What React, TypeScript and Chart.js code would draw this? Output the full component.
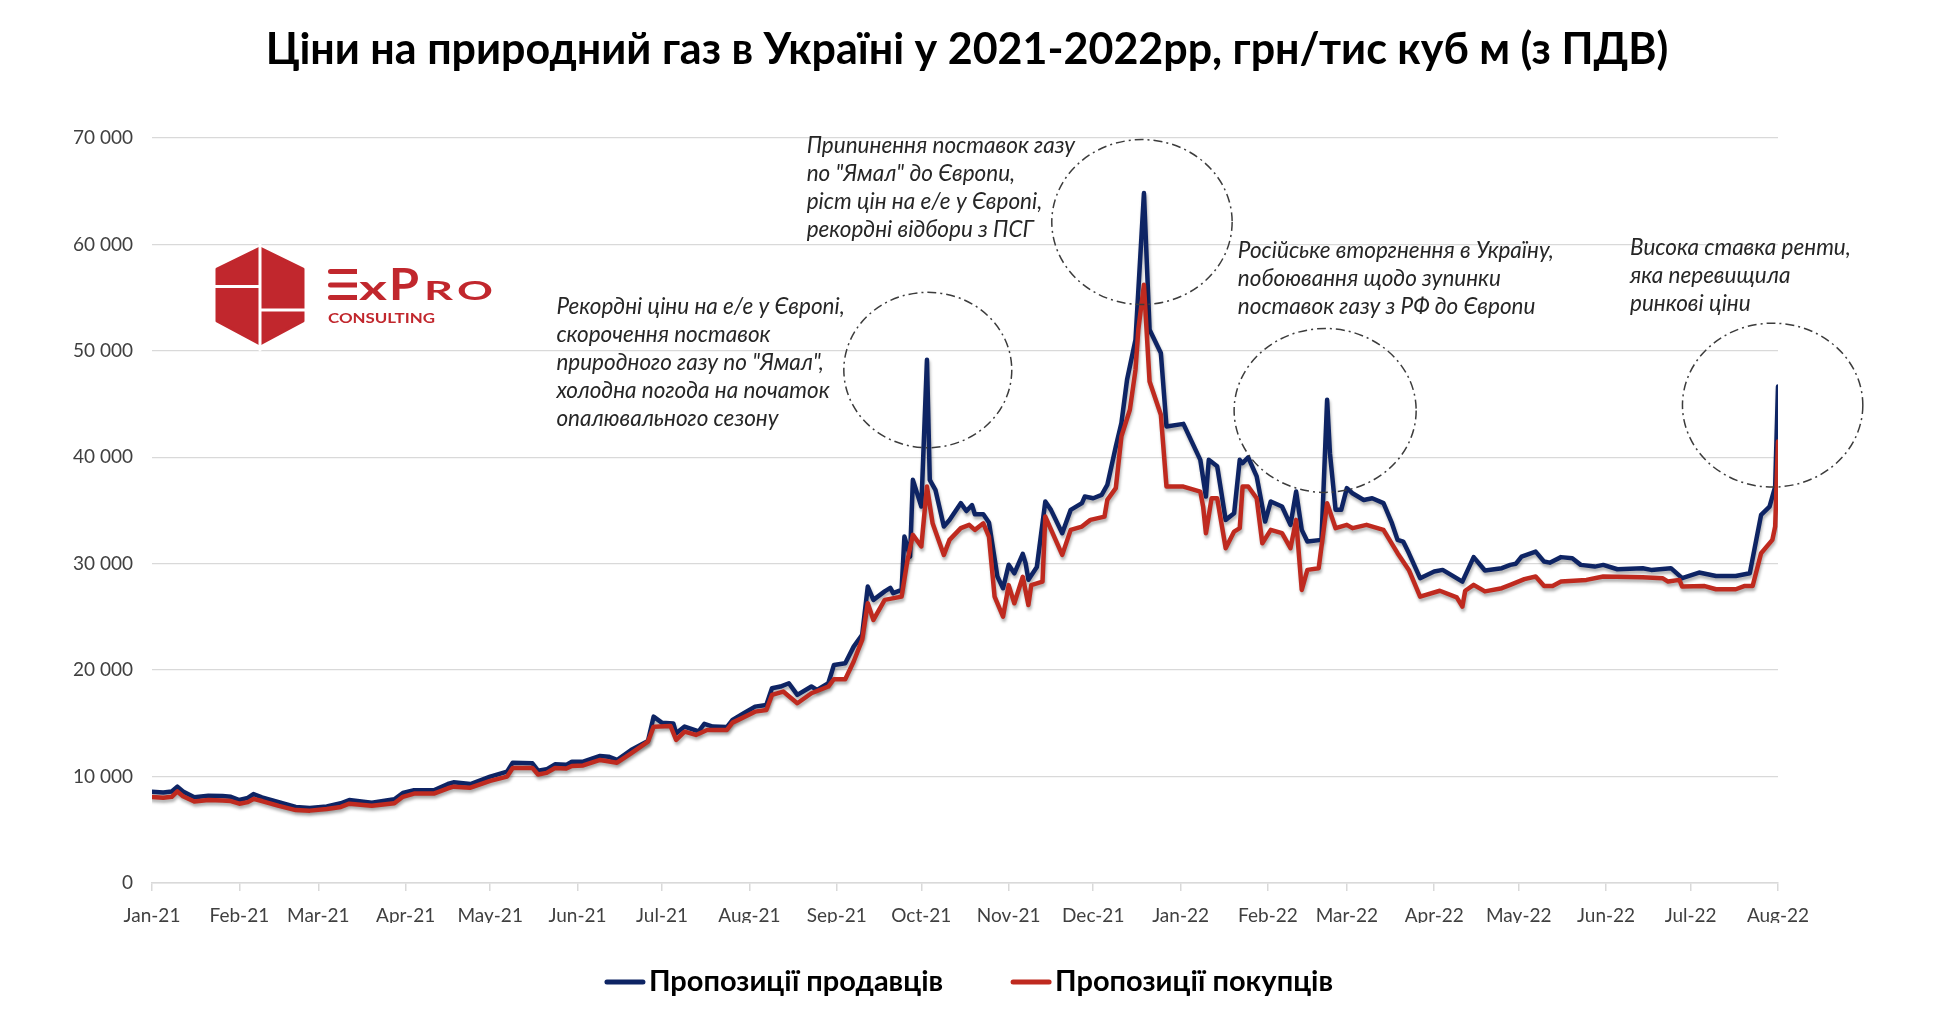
import { useEffect, useRef } from "react";
import { Chart, registerables, type Plugin } from "chart.js";

Chart.register(...registerables);

const TITLE = "Ціни на природний газ в Україні у 2021-2022рр, грн/тис куб м (з ПДВ)";

// x is counted in days from 1 Jan 2021
const MONTH_DAYS = [0, 31, 59, 90, 120, 151, 181, 212, 243, 273, 304, 334, 365, 396, 424, 455, 485, 516, 546, 577];
const MONTH_LABELS = [
  "Jan-21", "Feb-21", "Mar-21", "Apr-21", "May-21", "Jun-21", "Jul-21", "Aug-21", "Sep-21", "Oct-21",
  "Nov-21", "Dec-21", "Jan-22", "Feb-22", "Mar-22", "Apr-22", "May-22", "Jun-22", "Jul-22", "Aug-22",
];

const SELLER_LABEL = "Пропозиції продавців";
const SELLER_DAYS = [
  0, 4, 7, 9, 11, 15, 20, 25, 28, 31,
  34, 36, 39, 45, 51, 56, 62, 67, 70, 78,
  86, 89, 93, 100, 105, 107, 113, 120, 126, 128,
  135, 137, 140, 143, 147, 149, 153, 159, 162, 165,
  170, 176, 178, 181, 185, 186, 189, 194, 196, 199,
  204, 206, 210, 214, 218, 220, 223, 226, 229, 234,
  236, 240, 242, 246, 249, 252, 254, 256, 260, 262,
  263, 266, 267, 269, 270, 273, 275, 276, 278, 281,
  283, 287, 289, 291, 292, 295, 297, 300, 302, 304,
  306, 309, 310, 311, 314, 317, 319, 323, 326, 330,
  331, 334, 337, 339, 342, 344, 346, 349, 352, 354,
  358, 360, 366, 372, 374, 375, 378, 381, 384, 386,
  387, 389, 392, 395, 397, 401, 404, 406, 408, 410,
  415, 417, 418, 420, 422, 424, 426, 430, 433, 437,
  440, 442, 444, 446, 450, 455, 458, 461, 465, 469,
  473, 479, 482, 484, 486, 491, 494, 496, 500, 504,
  507, 512, 515, 520, 529, 532, 539, 543, 549, 555,
  562, 567, 571, 574, 576, 577,
];
const SELLER_PRICES = [
  8580, 8500, 8600, 9050, 8600, 8050, 8200, 8180, 8100, 7800,
  8000, 8360, 8050, 7600, 7150, 7050, 7200, 7490, 7800, 7550,
  7870, 8460, 8710, 8710, 9300, 9460, 9300, 10000, 10460, 11310,
  11250, 10560, 10680, 11150, 11100, 11400, 11400, 11940, 11870, 11560,
  12500, 13350, 15630, 15050, 14990, 14070, 14700, 14240, 14960, 14700,
  14650, 15320, 15950, 16570, 16730, 18300, 18460, 18770, 17670, 18460,
  18150, 18770, 20490, 20650, 22210, 23310, 27850, 26600, 27400, 27730,
  27240, 27550, 32550, 30670, 37880, 35370, 49160, 37880, 36940, 33490,
  34100, 35690, 34950, 35500, 34650, 34650, 33880, 28800, 27700, 29900,
  29100, 30930, 30050, 28500, 29700, 35840, 35060, 32870, 35060, 35690,
  36310, 36150, 36470, 37400, 41000, 43210, 47280, 51040, 64830, 51980,
  49790, 42900, 43140, 39760, 36310, 39760, 39150, 34120, 34750, 39760,
  39450, 40000, 38200, 33960, 35850, 35370, 33650, 36780, 33180, 32080,
  32240, 45400, 40390, 35060, 35060, 37100, 36620, 35990, 36150, 35690,
  33810, 32240, 32080, 31000, 28640, 29270, 29420, 28950, 28320, 30620,
  29360, 29580, 29890, 30000, 30670, 31140, 30200, 30100, 30620, 30520,
  29890, 29730, 29890, 29480, 29580, 29420, 29580, 28640, 29170, 28850,
  28850, 29110, 34590, 35370, 37250, 46650,
];

const BUYER_LABEL = "Пропозиції покупців";
const BUYER_DAYS = [
  0, 4, 7, 9, 11, 15, 20, 25, 28, 31,
  34, 36, 39, 45, 51, 56, 62, 67, 70, 78,
  86, 89, 93, 100, 105, 107, 113, 120, 126, 128,
  135, 137, 140, 143, 147, 149, 153, 159, 165, 170,
  176, 178, 184, 186, 189, 193, 197, 204, 206, 214,
  218, 220, 224, 229, 234, 240, 242, 246, 249, 252,
  254, 256, 260, 266, 268, 270, 273, 275, 277, 281,
  283, 287, 290, 292, 295, 297, 299, 302, 304, 306,
  309, 311, 312, 316, 317, 323, 326, 330, 333, 338,
  339, 342, 344, 347, 349, 350, 352, 354, 358, 360,
  366, 372, 373, 374, 376, 378, 381, 384, 386, 387,
  389, 392, 394, 397, 401, 404, 406, 408, 410, 414,
  417, 420, 424, 426, 431, 437, 442, 446, 450, 457,
  463, 465, 466, 469, 473, 479, 482, 487, 491, 494,
  497, 500, 509, 515, 529, 536, 538, 542, 543, 551,
  555, 562, 565, 568, 571, 575, 576, 577,
];
const BUYER_PRICES = [
  8080, 8000, 8100, 8600, 8150, 7650, 7800, 7750, 7700, 7450,
  7600, 7900, 7700, 7250, 6850, 6800, 6950, 7150, 7450, 7250,
  7500, 8100, 8400, 8400, 8900, 9050, 8950, 9600, 10000, 10800,
  10800, 10200, 10350, 10800, 10750, 11000, 11050, 11560, 11300, 12190,
  13280, 14690, 14750, 13440, 14220, 13910, 14380, 14380, 15070, 16100,
  16260, 17670, 17990, 16890, 17830, 18460, 19150, 19150, 20810, 22850,
  26290, 24720, 26600, 26910, 30200, 32710, 31620, 37250, 33800, 30830,
  32240, 33340, 33650, 33180, 33800, 32550, 26910, 25030, 27990, 26280,
  28770, 26120, 27990, 28320, 34430, 30830, 33180, 33490, 34120, 34430,
  36000, 37100, 41960, 44470, 48230, 52000, 56210, 47120, 43990, 37250,
  37250, 36780, 35370, 32870, 36150, 36150, 31460, 33020, 33340, 37250,
  37250, 36150, 31930, 33180, 32870, 31460, 34120, 27540, 29420, 29580,
  35690, 33340, 33650, 33340, 33650, 33180, 30990, 29420, 26900, 27460,
  26840, 25970, 27460, 28010, 27400, 27700, 28010, 28550, 28800, 27900,
  27900, 28320, 28480, 28800, 28730, 28640, 28320, 28480, 27850, 27900,
  27600, 27600, 27900, 27900, 30990, 32240, 33490, 41480,
];

// comment blocks, anchored in chart units (day, price) at the first line
const NOTES = [
  {
    day: 143.5, price: 54100,
    lines: [
      "Рекордні ціни на е/е у Європі,",
      "скорочення поставок",
      "природного газу по \"Ямал\",",
      "холодна погода на початок",
      "опалювального сезону",
    ],
  },
  {
    day: 232.3, price: 69300,
    lines: [
      "Припинення поставок газу",
      "по \"Ямал\" до Європи,",
      "ріст цін на е/е у Європі,",
      "рекордні відбори з ПСГ",
    ],
  },
  {
    day: 385.3, price: 59400,
    lines: [
      "Російське вторгнення в Україну,",
      "побоювання щодо зупинки",
      "поставок газу з РФ до Європи",
    ],
  },
  {
    day: 524.5, price: 59700,
    lines: ["Висока ставка ренти,", "яка перевищила", "ринкові ціни"],
  },
];

// dash-dot rings round the spikes
const RINGS = [
  { day: 275.3, price: 48200, rxDays: 29.8, ryPrice: 7300 },
  { day: 351.3, price: 62100, rxDays: 32, ryPrice: 7750 },
  { day: 416.3, price: 44400, rxDays: 32.3, ryPrice: 7700 },
  { day: 575.1, price: 44900, rxDays: 32, ryPrice: 7700 },
];

const NAVY = "#0e2464";
const RED = "#bf2a1f";
const LOGO_RED = "#c1272d";
const FONT = "Lato, 'Open Sans', sans-serif";

const fmt = (v: number) => String(v).replace(/\B(?=(\d{3})+(?!\d))/g, " ");

// draws text squeezed/stretched into a box (logo lettering)
function boxText(
  ctx: CanvasRenderingContext2D,
  text: string,
  left: number,
  baseline: number,
  width: number,
  size: number,
) {
  ctx.font = `bold ${size}px ${FONT}`;
  const w = ctx.measureText(text).width;
  ctx.save();
  ctx.translate(left, baseline);
  ctx.scale(width / w, 1);
  ctx.fillText(text, 0, 0);
  ctx.restore();
}

function drawLogo(ctx: CanvasRenderingContext2D) {
  ctx.save();
  ctx.fillStyle = LOGO_RED;
  ctx.lineJoin = "round";
  ctx.strokeStyle = LOGO_RED;
  ctx.lineWidth = 3;
  ctx.beginPath();
  ctx.moveTo(260, 248);
  ctx.lineTo(303, 269);
  ctx.lineTo(303, 321);
  ctx.lineTo(260, 344);
  ctx.lineTo(217, 321);
  ctx.lineTo(217, 269);
  ctx.closePath();
  ctx.fill();
  ctx.stroke();
  ctx.strokeStyle = "#fff";
  ctx.lineWidth = 3;
  ctx.beginPath();
  ctx.moveTo(260, 244);
  ctx.lineTo(260, 350);
  ctx.moveTo(213, 286.5);
  ctx.lineTo(260, 286.5);
  ctx.moveTo(260, 310);
  ctx.lineTo(308, 310);
  ctx.stroke();

  // the "E" is three bars
  ctx.fillStyle = LOGO_RED;
  for (const top of [269, 282.5, 295]) {
    ctx.beginPath();
    ctx.roundRect(328, top, 29, 5, [2.5, 0, 0, 2.5]);
    ctx.fill();
  }
  ctx.textBaseline = "alphabetic";
  ctx.textAlign = "left";
  boxText(ctx, "x", 359, 300, 28, 35);
  boxText(ctx, "P", 389, 300, 30, 43);
  boxText(ctx, "R", 424, 300, 29, 26);
  boxText(ctx, "O", 457, 300, 36, 26);
  boxText(ctx, "CONSULTING", 328, 323, 107, 13.5);
  ctx.restore();
}

const shadowPlugin: Plugin<"line"> = {
  id: "lineShadow",
  beforeDatasetDraw(chart) {
    const ctx = chart.ctx;
    ctx.save();
    ctx.shadowColor = "rgba(0,0,0,0.3)";
    ctx.shadowBlur = 3;
    ctx.shadowOffsetX = 1;
    ctx.shadowOffsetY = 3;
  },
  afterDatasetDraw(chart) {
    chart.ctx.restore();
  },
};

const decorPlugin: Plugin<"line"> = {
  id: "decor",
  afterDraw(chart) {
    const { ctx, chartArea, scales } = chart;
    const xs = scales.x;
    const ys = scales.y;
    const mid = (chartArea.left + chartArea.right) / 2;
    ctx.save();

    // title
    ctx.fillStyle = "#000";
    ctx.font = `bold 43px ${FONT}`;
    ctx.textAlign = "center";
    ctx.textBaseline = "middle";
    ctx.fillText(TITLE, mid + 2, 50);

    // rings
    ctx.strokeStyle = "#3c3c3c";
    ctx.lineWidth = 1.5;
    ctx.setLineDash([9, 4, 2, 4]);
    for (const r of RINGS) {
      const cx = xs.getPixelForValue(r.day);
      const cy = ys.getPixelForValue(r.price);
      const rx = Math.abs(xs.getPixelForValue(r.day + r.rxDays) - cx);
      const ry = Math.abs(ys.getPixelForValue(r.price + r.ryPrice) - cy);
      ctx.beginPath();
      ctx.ellipse(cx, cy, rx, ry, 0, 0, Math.PI * 2);
      ctx.stroke();
    }
    ctx.setLineDash([]);

    // notes
    ctx.fillStyle = "#262626";
    ctx.font = `italic 22.5px ${FONT}`;
    ctx.textAlign = "left";
    for (const n of NOTES) {
      const x = xs.getPixelForValue(n.day);
      const y = ys.getPixelForValue(n.price);
      n.lines.forEach((line, i) => ctx.fillText(line, x, y + i * 28));
    }

    // legend
    const items = [
      { label: SELLER_LABEL, color: NAVY },
      { label: BUYER_LABEL, color: RED },
    ];
    ctx.font = `bold 29px ${FONT}`;
    const swatch = 40;
    const gap = 68;
    const widths = items.map((it) => swatch + 4 + ctx.measureText(it.label).width);
    const total = widths.reduce((a, b) => a + b, 0) + gap * (items.length - 1);
    let x = mid + 4 - total / 2;
    const ly = 982;
    items.forEach((it, i) => {
      ctx.strokeStyle = it.color;
      ctx.lineWidth = 5;
      ctx.lineCap = "round";
      ctx.beginPath();
      ctx.moveTo(x + 2, ly);
      ctx.lineTo(x + swatch - 2, ly);
      ctx.stroke();
      ctx.fillStyle = "#000";
      ctx.fillText(it.label, x + swatch + 4, ly);
      x += widths[i] + gap;
    });

    drawLogo(ctx);
    ctx.restore();
  },
};

export default function App() {
  const canvasRef = useRef<HTMLCanvasElement>(null);

  useEffect(() => {
    if (!canvasRef.current) return;
    const chart = new Chart(canvasRef.current, {
      type: "line",
      data: {
        datasets: [
          {
            label: SELLER_LABEL,
            data: SELLER_DAYS.map((d, i) => ({ x: d, y: SELLER_PRICES[i] })),
            borderColor: NAVY,
            backgroundColor: NAVY,
            borderWidth: 4.5,
            borderJoinStyle: "round",
            borderCapStyle: "round",
            pointRadius: 0,
            tension: 0,
            order: 2,
          },
          {
            label: BUYER_LABEL,
            data: BUYER_DAYS.map((d, i) => ({ x: d, y: BUYER_PRICES[i] })),
            borderColor: RED,
            backgroundColor: RED,
            borderWidth: 4.5,
            borderJoinStyle: "round",
            borderCapStyle: "round",
            pointRadius: 0,
            tension: 0,
            order: 1,
          },
        ],
      },
      options: {
        animation: false,
        responsive: true,
        maintainAspectRatio: false,
        layout: { padding: { left: 0, right: 166, top: 138, bottom: 103 } },
        plugins: {
          legend: { display: false },
          tooltip: { enabled: false },
        },
        scales: {
          x: {
            type: "linear",
            min: 0,
            max: 577,
            afterBuildTicks: (s) => {
              s.ticks = MONTH_DAYS.map((v) => ({ value: v }));
            },
            afterFit: (s) => {
              s.height = 40;
            },
            grid: {
              drawOnChartArea: false,
              drawTicks: true,
              tickLength: 8,
              color: "#d9d9d9",
              lineWidth: 1.5,
            },
            border: { display: true, color: "#d9d9d9", width: 1.5 },
            ticks: {
              autoSkip: false,
              maxRotation: 0,
              padding: 13,
              color: "#404040",
              font: { family: FONT, size: 19 },
              callback: (_v, i) => MONTH_LABELS[i],
            },
          },
          y: {
            min: 0,
            max: 70000,
            afterFit: (s) => {
              s.width = 152;
            },
            grid: { color: "#d9d9d9", lineWidth: 1.3, drawTicks: false },
            border: { display: false },
            ticks: {
              stepSize: 10000,
              padding: 19,
              color: "#404040",
              font: { family: FONT, size: 19 },
              callback: (v) => fmt(Number(v)),
            },
          },
        },
      },
      plugins: [shadowPlugin, decorPlugin],
    });
    return () => chart.destroy();
  }, []);

  return (
    <div
      style={{
        position: "absolute",
        left: 0,
        top: 0,
        width: 1944,
        height: 1026,
        background: "#fff",
      }}
    >
      <canvas ref={canvasRef} />
    </div>
  );
}
